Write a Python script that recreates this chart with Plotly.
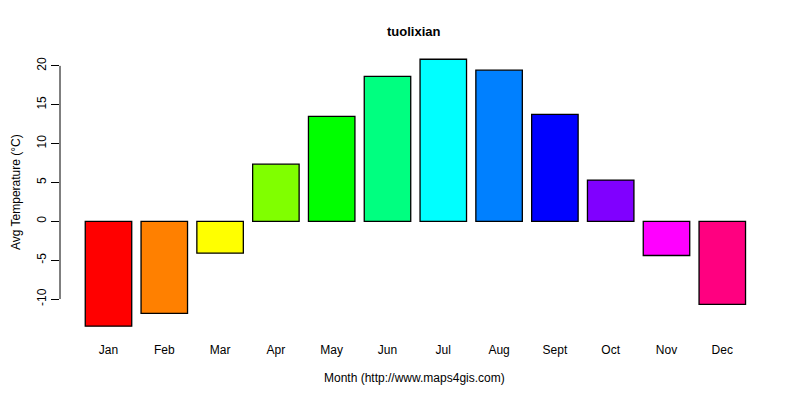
import plotly.graph_objects as go

months = ["Jan", "Feb", "Mar", "Apr", "May", "Jun", "Jul", "Aug", "Sept", "Oct", "Nov", "Dec"]
temps = [-13.5, -11.85, -4.1, 7.35, 13.5, 18.65, 20.85, 19.45, 13.75, 5.3, -4.4, -10.7]
colors = ["#FF0000", "#FF8000", "#FFFF00", "#80FF00", "#00FF00", "#00FF80",
          "#00FFFF", "#0080FF", "#0000FF", "#8000FF", "#FF00FF", "#FF0080"]
yticks = [-10, -5, 0, 5, 10, 15, 20]

font = "Liberation Sans, Arial, sans-serif"

# page offset (body margin) compensation
OFF = 8
L, T, PW = 60 - OFF, 40 - OFF, 710
B = 400 - (335 - OFF)
R = 800 - L - PW
ph = 400 - T - B

fig = go.Figure()
fig.add_trace(go.Bar(
    x=list(range(len(months))), y=temps,
    marker=dict(color=colors, line=dict(color="black", width=1.3)),
    width=0.833,
))

fig.add_shape(type="line", xref="paper", yref="y", x0=0, x1=0,
              y0=min(yticks), y1=max(yticks), line=dict(color="black", width=1))

fig.update_layout(
    width=800, height=400,
    margin=dict(l=L, r=R, t=T, b=B),
    paper_bgcolor="white", plot_bgcolor="white",
    showlegend=False,
    font=dict(family=font, size=12, color="black"),
    xaxis=dict(
        range=[-0.869, 11.855], tickmode="array",
        tickvals=list(range(len(months))), ticktext=months,
        showgrid=False, zeroline=False, showline=False, ticks="",
        ticklabelstandoff=6,
    ),
    yaxis=dict(
        range=[-14.63, 23.33], tickmode="array", tickvals=yticks,
        ticktext=[str(v) for v in yticks],
        showgrid=False, zeroline=False, showline=False,
        ticks="outside", ticklen=8, tickcolor="black", tickwidth=1,
        tickangle=-90,
    ),
)

def ypaper(px):
    return (400 - B - (px - OFF)) / ph

def xpaper(px):
    return ((px - OFF) - L) / PW

fig.add_annotation(text="<b>tuolixian</b>", x=xpaper(414), xref="paper", y=ypaper(31), yref="paper",
                   showarrow=False, font=dict(size=13), yanchor="middle")
fig.add_annotation(text="Month (http://www.maps4gis.com)", x=xpaper(414), xref="paper", y=ypaper(378),
                   yref="paper", showarrow=False, font=dict(size=12), yanchor="middle")
fig.add_annotation(text="Avg Temperature (°C)", x=xpaper(16), xref="paper", y=ypaper(192),
                   yref="paper", showarrow=False, font=dict(size=12), textangle=-90,
                   xanchor="center", yanchor="middle", borderpad=0)

fig.write_html("out.html")
